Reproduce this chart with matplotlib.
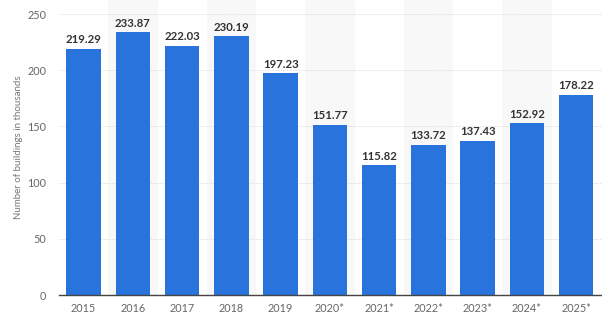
import matplotlib
matplotlib.use('Agg')
import matplotlib.pyplot as plt
import numpy as np

years = ['2015', '2016', '2017', '2018', '2019', '2020*', '2021*',
         '2022*', '2023*', '2024*', '2025*']
values = [219.29, 233.87, 222.03, 230.19, 197.23, 151.77, 115.82,
          133.72, 137.43, 152.92, 178.22]
yticks = [0, 50, 100, 150, 200, 250]

plt.rcParams['font.family'] = ['Lato', 'DejaVu Sans']

fig = plt.figure(figsize=(6.02, 3.32), dpi=100)
ax = fig.add_axes([0.098, 0.111, 0.9, 0.889])

x = np.arange(len(years))

# alternating column bands
for i in x:
    if i % 2 == 1:
        ax.axvspan(i - 0.5, i + 0.5, color='#f8f8f8', zorder=0, lw=0)

for y in yticks[1:]:
    ax.axhline(y, color='#dddddd', lw=0.7, ls=(0, (1, 1)), zorder=1)

bars = ax.bar(x, values, width=0.7, color='#2874dc', zorder=2)
for xi, v in zip(x, values):
    ax.text(xi, v + 3, f'{v:.2f}', ha='center', va='bottom',
            fontsize=8.2, fontweight='bold', color='#333333', zorder=3)

ax.set_xlim(-0.5, len(years) - 0.5)
ax.set_ylim(0, 262.5)
ax.set_xticks(x)
ax.set_xticklabels(years)
ax.set_yticks(yticks)
ax.tick_params(axis='both', length=0, labelsize=7.8, colors='#666666')
ax.tick_params(axis='x', pad=6)
ax.tick_params(axis='y', pad=9)
ax.set_ylabel('Number of buildings in thousands', fontsize=7, color='#777777', labelpad=3)

for s in ['top', 'right', 'left']:
    ax.spines[s].set_visible(False)
ax.spines['bottom'].set_color('#444444')
ax.spines['bottom'].set_linewidth(1.0)
ax.spines['bottom'].set_zorder(4)

plt.savefig('out.png', dpi=100)
plt.close()
